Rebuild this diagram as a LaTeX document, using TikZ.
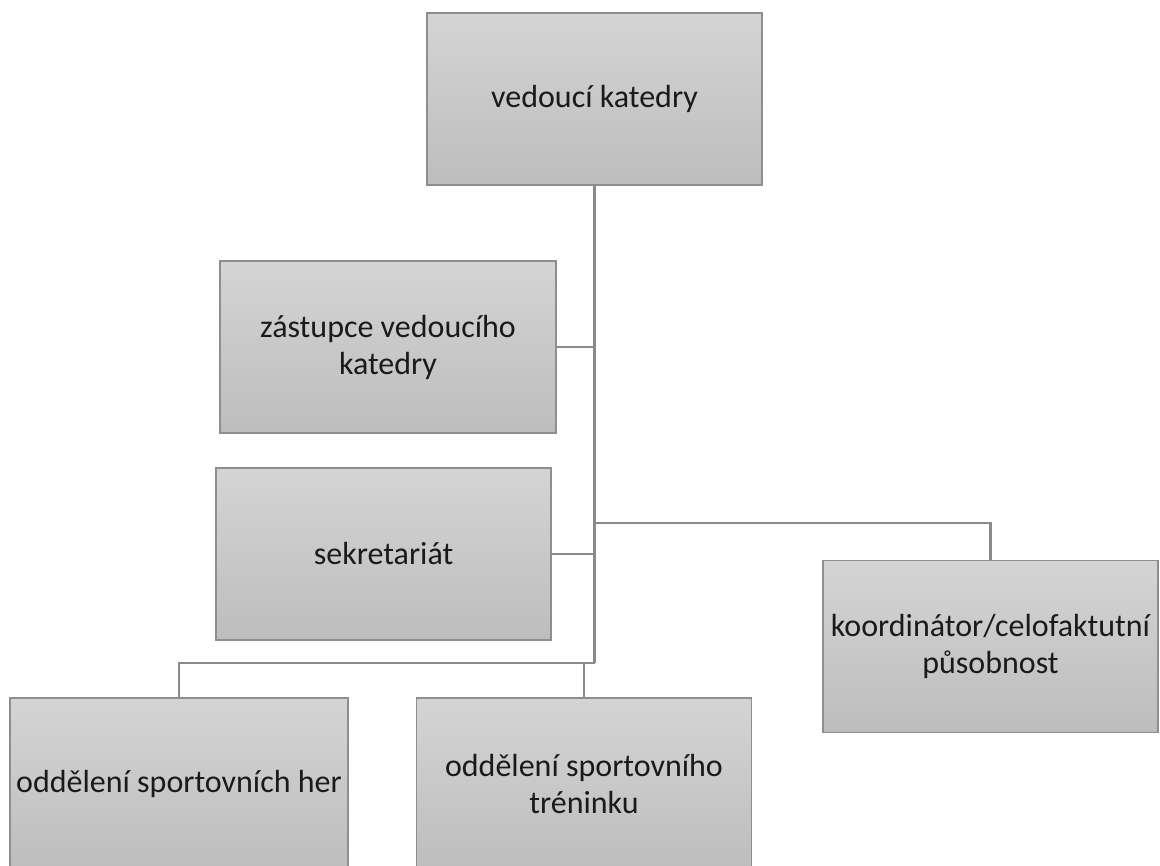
\documentclass[tikz,border=0pt]{standalone}
\usepackage{fontspec}
\setmainfont{Carlito}
\begin{document}
\begin{tikzpicture}[x=1pt,y=-1pt,
  orgbox/.style={rectangle, draw=boxedge, line width=1.4pt, top color=boxtop, bottom color=boxbot,
    minimum width=#1, minimum height=172pt, inner sep=1pt, align=center,
    font=\fontsize{32}{37}\selectfont, text=textc},
  orgbox/.default=335pt,
  link/.style={draw=linkc, line width=2.6pt}]
\definecolor{boxedge}{HTML}{8E8E8E}
\definecolor{boxtop}{HTML}{D4D4D4}
\definecolor{boxbot}{HTML}{BDBDBD}
\definecolor{linkc}{HTML}{8A8A8A}
\definecolor{textc}{HTML}{1A1A1A}
\useasboundingbox (0,0) rectangle (1160,866);
\clip (0,0) rectangle (1160,866);
\node[orgbox] (top) at (594.5,99) {vedoucí katedry};
\node[orgbox=336pt] (zast) at (388,347) {zástupce vedoucího\\katedry};
\node[orgbox] (sekr) at (383.5,554) {sekretariát};
\node[orgbox] (koord) at (990.5,646.5) {koordinátor/celofaktutní\\působnost};
\node[orgbox=338pt] (odd1) at (179,784) {oddělení sportovních her};
\node[orgbox] (odd2) at (584,784) {oddělení sportovního\\tréninku};
\coordinate (jb) at (594.5,663);
\coordinate (jk) at (594.5,523);
\draw[link] (top.south) -- (jb);
\draw[link] (zast.east) -- (zast.east -| top.south);
\draw[link] (sekr.east) -- (sekr.east -| top.south);
\draw[link] (jk) -| (koord.north);
\draw[link] (jb) -| (odd1.north);
\draw[link] (jb) -| (odd2.north);
\end{tikzpicture}
\end{document}
